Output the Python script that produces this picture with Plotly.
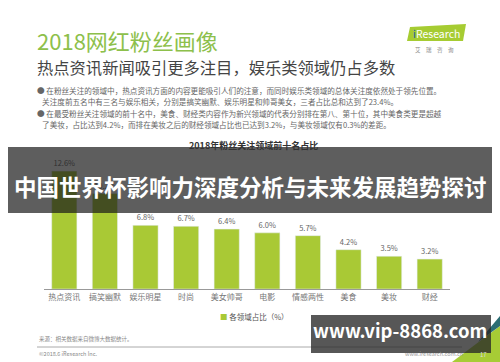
import plotly.graph_objects as go

# ---- data ----
categories = ["热点资讯", "搞笑幽默", "娱乐明星", "时尚", "美女帅哥",
              "电影", "情感两性", "美食", "美妆", "财经"]
values = [12.6, 10.2, 6.8, 6.7, 6.4, 6.0, 5.7, 4.2, 3.5, 3.2]
series_name = "各领域占比（%）"
chart_title = "2018年粉丝关注领域前十名占比"

W, H = 500, 362
L, R, T, B = 44, 50, 158, 73
PW, PH = W - L - R, H - T - B
FONT = "Noto Sans CJK SC"
GREEN = "#a9c935"


def px(x):
    return (x - L) / PW


def py(y):
    return (H - B - y) / PH


fig = go.Figure()
fig.add_trace(go.Bar(
    x=categories, y=values, marker_color=GREEN, width=0.62,
    text=[f"{v:.1f}%" for v in values], textposition="outside",
    textfont=dict(size=7.5, color="#666", family=FONT),
    cliponaxis=False, showlegend=False, name=series_name,
))

ann = []


def text(x, y, s, size, color, anchor="left", bold=False):
    if bold:
        s = f"<b>{s}</b>"
    ann.append(dict(x=px(x), y=py(y), xref="paper", yref="paper", text=s,
                    showarrow=False, xanchor=anchor, yanchor="middle",
                    font=dict(size=size, color=color, family=FONT)))


# header
text(35, 40, "2018网红粉丝画像", 22, "#8dc04b")
text(35, 67, "热点资讯新闻吸引更多注目，娱乐类领域仍占多数", 16.3, "#444")
bullets = [
    (90, "● 在粉丝关注的领域中，热点资讯方面的内容更能吸引人们的注意，而同时娱乐类领域的总体关注度依然处于领先位置。"),
    (101, "   关注度前五名中有三名与娱乐相关，分别是搞笑幽默、娱乐明星和帅哥美女，三者占比总和达到了23.4%。"),
    (113, "● 在最受粉丝关注领域的前十名中，美食、财经类内容作为新兴领域的代表分别排在第八、第十位，其中美食类更是超越"),
    (124, "   了美妆，占比达到4.2%，而排在美妆之后的财经领域占比也已达到3.2%，与美妆领域仅有0.3%的差距。"),
]
for y, s in bullets:
    text(35, y, s, 7.6, "#666")

# logo
text(436, 33, "<span style='color:#1f5fa8'>i</span>Research", 10.5, "white", anchor="center")
text(434, 50, "艾　瑞　咨　询", 5.5, "#888", anchor="center")

# chart title
text(253, 145, chart_title, 9, "#333", anchor="center", bold=True)

# legend
text(218, 316, f"<span style='color:{GREEN}'>■</span> {series_name}", 7.5, "#555")

# footer
text(37, 339, "来源：相关数据来自微博大数据统计。", 5.5, "#888")
text(37, 354, "©2018.6 iResearch Inc.", 5.5, "#888")
text(434, 354, "www.iresearch.com.cn", 5.5, "#999", anchor="center")
text(483, 354, "17", 6, "#ddd", anchor="center")

# overlay texts
text(250, 186, "中国世界杯影响力深度分析与未来发展趋势探讨", 22.5, "white", anchor="center", bold=True)
text(400, 330, "www.vip-8868.com", 18.5, "white", anchor="center", bold=True)

shapes = [
    # logo parallelogram
    dict(type="path", xref="paper", yref="paper",
         path=f"M{px(407)},{py(41)} L{px(463)},{py(41)} L{px(466)},{py(24)} L{px(410)},{py(27)} Z",
         fillcolor="#a6cc32", line=dict(width=0), layer="below"),
    # footer separator
    dict(type="line", xref="paper", yref="paper", x0=px(37), x1=px(462), y0=py(347), y1=py(347),
         line=dict(color="#aaa", width=1)),
    # corner triangles
    dict(type="path", xref="paper", yref="paper",
         path=f"M{px(452)},{py(362)} L{px(500)},{py(362)} L{px(500)},{py(326)} Z",
         fillcolor="#a7cc35", line=dict(width=0)),
    dict(type="path", xref="paper", yref="paper",
         path=f"M{px(478)},{py(342)} L{px(500)},{py(326)} L{px(500)},{py(316)} Z",
         fillcolor="#2b6d73", line=dict(width=0)),
    # dark overlay band
    dict(type="rect", xref="paper", yref="paper", x0=px(8), x1=px(492), y0=py(213), y1=py(147),
         fillcolor="rgba(25,25,25,0.7)", line=dict(width=0), layer="above"),
    # watermark box
    dict(type="rect", xref="paper", yref="paper", x0=px(311), x1=px(491), y0=py(353), y1=py(315),
         fillcolor="rgba(40,40,40,0.78)", line=dict(width=0), layer="above"),
]

fig.update_layout(
    width=W, height=H, autosize=False,
    margin=dict(l=L, r=R, t=T, b=B, pad=0),
    paper_bgcolor="white", plot_bgcolor="white",
    bargap=0.38,
    xaxis=dict(showline=True, linecolor="#999", linewidth=1, ticks="",
               tickfont=dict(size=8, color="#777", family=FONT),
               showgrid=False, zeroline=False, fixedrange=True),
    yaxis=dict(range=[0, 14], visible=False, showgrid=False, zeroline=False),
    annotations=ann, shapes=shapes, showlegend=False,
)

fig.write_html("out.html", config={"displayModeBar": False},
               post_script="document.body.style.margin='0';document.body.style.padding='0';")
